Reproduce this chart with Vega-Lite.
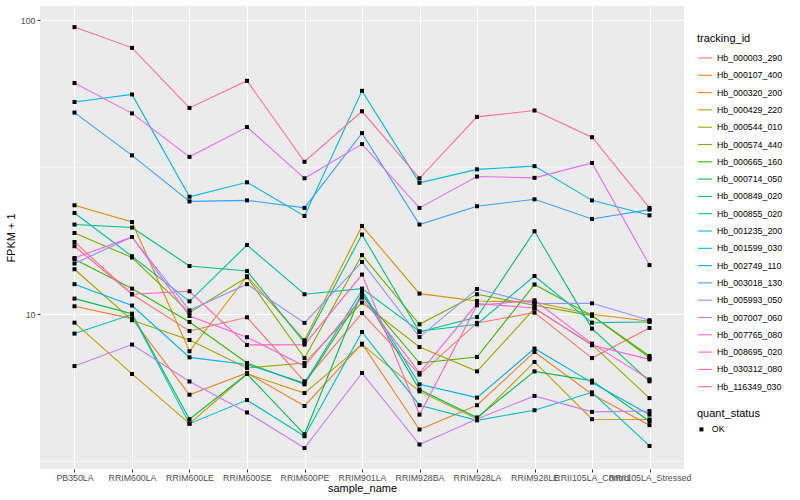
{
  "$schema": "https://vega.github.io/schema/vega-lite/v6.json",
  "width": 644,
  "height": 463,
  "autosize": {"type": "none"},
  "padding": {"left": 40, "top": 6, "right": 116, "bottom": 31},
  "background": "white",
  "config": {
    "font": "Liberation Sans",
    "view": {"fill": "#EBEBEB", "stroke": null}
  },
  "data": {
    "values": [
      {"tracking_id":"Hb_000003_290","sample_name":"PB350LA","fpkm":17.62,"quant_status":"OK"},
      {"tracking_id":"Hb_000003_290","sample_name":"RRIM600LA","fpkm":11.70,"quant_status":"OK"},
      {"tracking_id":"Hb_000003_290","sample_name":"RRIM600LE","fpkm":8.78,"quant_status":"OK"},
      {"tracking_id":"Hb_000003_290","sample_name":"RRIM600SE","fpkm":9.77,"quant_status":"OK"},
      {"tracking_id":"Hb_000003_290","sample_name":"RRIM600PE","fpkm":5.92,"quant_status":"OK"},
      {"tracking_id":"Hb_000003_290","sample_name":"RRIM901LA","fpkm":10.10,"quant_status":"OK"},
      {"tracking_id":"Hb_000003_290","sample_name":"RRIM928BA","fpkm":6.24,"quant_status":"OK"},
      {"tracking_id":"Hb_000003_290","sample_name":"RRIM928LA","fpkm":9.35,"quant_status":"OK"},
      {"tracking_id":"Hb_000003_290","sample_name":"RRIM928LE","fpkm":10.13,"quant_status":"OK"},
      {"tracking_id":"Hb_000003_290","sample_name":"RRII105LA_Control","fpkm":7.10,"quant_status":"OK"},
      {"tracking_id":"Hb_000003_290","sample_name":"RRII105LA_Stressed","fpkm":8.99,"quant_status":"OK"},

      {"tracking_id":"Hb_000107_400","sample_name":"PB350LA","fpkm":10.65,"quant_status":"OK"},
      {"tracking_id":"Hb_000107_400","sample_name":"RRIM600LA","fpkm":9.67,"quant_status":"OK"},
      {"tracking_id":"Hb_000107_400","sample_name":"RRIM600LE","fpkm":5.33,"quant_status":"OK"},
      {"tracking_id":"Hb_000107_400","sample_name":"RRIM600SE","fpkm":6.32,"quant_status":"OK"},
      {"tracking_id":"Hb_000107_400","sample_name":"RRIM600PE","fpkm":4.88,"quant_status":"OK"},
      {"tracking_id":"Hb_000107_400","sample_name":"RRIM901LA","fpkm":7.95,"quant_status":"OK"},
      {"tracking_id":"Hb_000107_400","sample_name":"RRIM928BA","fpkm":4.06,"quant_status":"OK"},
      {"tracking_id":"Hb_000107_400","sample_name":"RRIM928LA","fpkm":4.91,"quant_status":"OK"},
      {"tracking_id":"Hb_000107_400","sample_name":"RRIM928LE","fpkm":7.45,"quant_status":"OK"},
      {"tracking_id":"Hb_000107_400","sample_name":"RRII105LA_Control","fpkm":5.35,"quant_status":"OK"},
      {"tracking_id":"Hb_000107_400","sample_name":"RRII105LA_Stressed","fpkm":4.20,"quant_status":"OK"},

      {"tracking_id":"Hb_000320_200","sample_name":"PB350LA","fpkm":23.48,"quant_status":"OK"},
      {"tracking_id":"Hb_000320_200","sample_name":"RRIM600LA","fpkm":20.6,"quant_status":"OK"},
      {"tracking_id":"Hb_000320_200","sample_name":"RRIM600LE","fpkm":7.49,"quant_status":"OK"},
      {"tracking_id":"Hb_000320_200","sample_name":"RRIM600SE","fpkm":13.47,"quant_status":"OK"},
      {"tracking_id":"Hb_000320_200","sample_name":"RRIM600PE","fpkm":8.16,"quant_status":"OK"},
      {"tracking_id":"Hb_000320_200","sample_name":"RRIM901LA","fpkm":19.97,"quant_status":"OK"},
      {"tracking_id":"Hb_000320_200","sample_name":"RRIM928BA","fpkm":11.76,"quant_status":"OK"},
      {"tracking_id":"Hb_000320_200","sample_name":"RRIM928LA","fpkm":11.10,"quant_status":"OK"},
      {"tracking_id":"Hb_000320_200","sample_name":"RRIM928LE","fpkm":11.01,"quant_status":"OK"},
      {"tracking_id":"Hb_000320_200","sample_name":"RRII105LA_Control","fpkm":10.0,"quant_status":"OK"},
      {"tracking_id":"Hb_000320_200","sample_name":"RRII105LA_Stressed","fpkm":9.47,"quant_status":"OK"},

      {"tracking_id":"Hb_000429_220","sample_name":"PB350LA","fpkm":9.37,"quant_status":"OK"},
      {"tracking_id":"Hb_000429_220","sample_name":"RRIM600LA","fpkm":6.27,"quant_status":"OK"},
      {"tracking_id":"Hb_000429_220","sample_name":"RRIM600LE","fpkm":4.25,"quant_status":"OK"},
      {"tracking_id":"Hb_000429_220","sample_name":"RRIM600SE","fpkm":6.27,"quant_status":"OK"},
      {"tracking_id":"Hb_000429_220","sample_name":"RRIM600PE","fpkm":5.40,"quant_status":"OK"},
      {"tracking_id":"Hb_000429_220","sample_name":"RRIM901LA","fpkm":7.89,"quant_status":"OK"},
      {"tracking_id":"Hb_000429_220","sample_name":"RRIM928BA","fpkm":5.47,"quant_status":"OK"},
      {"tracking_id":"Hb_000429_220","sample_name":"RRIM928LA","fpkm":4.41,"quant_status":"OK"},
      {"tracking_id":"Hb_000429_220","sample_name":"RRIM928LE","fpkm":6.89,"quant_status":"OK"},
      {"tracking_id":"Hb_000429_220","sample_name":"RRII105LA_Control","fpkm":4.40,"quant_status":"OK"},
      {"tracking_id":"Hb_000429_220","sample_name":"RRII105LA_Stressed","fpkm":4.39,"quant_status":"OK"},

      {"tracking_id":"Hb_000544_010","sample_name":"PB350LA","fpkm":14.23,"quant_status":"OK"},
      {"tracking_id":"Hb_000544_010","sample_name":"RRIM600LA","fpkm":9.55,"quant_status":"OK"},
      {"tracking_id":"Hb_000544_010","sample_name":"RRIM600LE","fpkm":8.18,"quant_status":"OK"},
      {"tracking_id":"Hb_000544_010","sample_name":"RRIM600SE","fpkm":6.57,"quant_status":"OK"},
      {"tracking_id":"Hb_000544_010","sample_name":"RRIM600PE","fpkm":6.83,"quant_status":"OK"},
      {"tracking_id":"Hb_000544_010","sample_name":"RRIM901LA","fpkm":10.96,"quant_status":"OK"},
      {"tracking_id":"Hb_000544_010","sample_name":"RRIM928BA","fpkm":7.74,"quant_status":"OK"},
      {"tracking_id":"Hb_000544_010","sample_name":"RRIM928LA","fpkm":6.40,"quant_status":"OK"},
      {"tracking_id":"Hb_000544_010","sample_name":"RRIM928LE","fpkm":10.46,"quant_status":"OK"},
      {"tracking_id":"Hb_000544_010","sample_name":"RRII105LA_Control","fpkm":7.89,"quant_status":"OK"},
      {"tracking_id":"Hb_000544_010","sample_name":"RRII105LA_Stressed","fpkm":5.19,"quant_status":"OK"},

      {"tracking_id":"Hb_000574_440","sample_name":"PB350LA","fpkm":18.9,"quant_status":"OK"},
      {"tracking_id":"Hb_000574_440","sample_name":"RRIM600LA","fpkm":15.6,"quant_status":"OK"},
      {"tracking_id":"Hb_000574_440","sample_name":"RRIM600LE","fpkm":10.13,"quant_status":"OK"},
      {"tracking_id":"Hb_000574_440","sample_name":"RRIM600SE","fpkm":13.37,"quant_status":"OK"},
      {"tracking_id":"Hb_000574_440","sample_name":"RRIM600PE","fpkm":7.10,"quant_status":"OK"},
      {"tracking_id":"Hb_000574_440","sample_name":"RRIM901LA","fpkm":15.9,"quant_status":"OK"},
      {"tracking_id":"Hb_000574_440","sample_name":"RRIM928BA","fpkm":9.25,"quant_status":"OK"},
      {"tracking_id":"Hb_000574_440","sample_name":"RRIM928LA","fpkm":11.70,"quant_status":"OK"},
      {"tracking_id":"Hb_000574_440","sample_name":"RRIM928LE","fpkm":10.73,"quant_status":"OK"},
      {"tracking_id":"Hb_000574_440","sample_name":"RRII105LA_Control","fpkm":9.90,"quant_status":"OK"},
      {"tracking_id":"Hb_000574_440","sample_name":"RRII105LA_Stressed","fpkm":7.12,"quant_status":"OK"},

      {"tracking_id":"Hb_000665_160","sample_name":"PB350LA","fpkm":15.39,"quant_status":"OK"},
      {"tracking_id":"Hb_000665_160","sample_name":"RRIM600LA","fpkm":12.23,"quant_status":"OK"},
      {"tracking_id":"Hb_000665_160","sample_name":"RRIM600LE","fpkm":9.42,"quant_status":"OK"},
      {"tracking_id":"Hb_000665_160","sample_name":"RRIM600SE","fpkm":6.83,"quant_status":"OK"},
      {"tracking_id":"Hb_000665_160","sample_name":"RRIM600PE","fpkm":5.78,"quant_status":"OK"},
      {"tracking_id":"Hb_000665_160","sample_name":"RRIM901LA","fpkm":11.61,"quant_status":"OK"},
      {"tracking_id":"Hb_000665_160","sample_name":"RRIM928BA","fpkm":6.83,"quant_status":"OK"},
      {"tracking_id":"Hb_000665_160","sample_name":"RRIM928LA","fpkm":7.16,"quant_status":"OK"},
      {"tracking_id":"Hb_000665_160","sample_name":"RRIM928LE","fpkm":12.63,"quant_status":"OK"},
      {"tracking_id":"Hb_000665_160","sample_name":"RRII105LA_Control","fpkm":9.90,"quant_status":"OK"},
      {"tracking_id":"Hb_000665_160","sample_name":"RRII105LA_Stressed","fpkm":7.22,"quant_status":"OK"},

      {"tracking_id":"Hb_000714_050","sample_name":"PB350LA","fpkm":11.31,"quant_status":"OK"},
      {"tracking_id":"Hb_000714_050","sample_name":"RRIM600LA","fpkm":10.05,"quant_status":"OK"},
      {"tracking_id":"Hb_000714_050","sample_name":"RRIM600LE","fpkm":4.40,"quant_status":"OK"},
      {"tracking_id":"Hb_000714_050","sample_name":"RRIM600SE","fpkm":6.27,"quant_status":"OK"},
      {"tracking_id":"Hb_000714_050","sample_name":"RRIM600PE","fpkm":3.91,"quant_status":"OK"},
      {"tracking_id":"Hb_000714_050","sample_name":"RRIM901LA","fpkm":11.91,"quant_status":"OK"},
      {"tracking_id":"Hb_000714_050","sample_name":"RRIM928BA","fpkm":5.55,"quant_status":"OK"},
      {"tracking_id":"Hb_000714_050","sample_name":"RRIM928LA","fpkm":4.46,"quant_status":"OK"},
      {"tracking_id":"Hb_000714_050","sample_name":"RRIM928LE","fpkm":6.40,"quant_status":"OK"},
      {"tracking_id":"Hb_000714_050","sample_name":"RRII105LA_Control","fpkm":5.95,"quant_status":"OK"},
      {"tracking_id":"Hb_000714_050","sample_name":"RRII105LA_Stressed","fpkm":4.33,"quant_status":"OK"},

      {"tracking_id":"Hb_000849_020","sample_name":"PB350LA","fpkm":20.19,"quant_status":"OK"},
      {"tracking_id":"Hb_000849_020","sample_name":"RRIM600LA","fpkm":19.72,"quant_status":"OK"},
      {"tracking_id":"Hb_000849_020","sample_name":"RRIM600LE","fpkm":14.6,"quant_status":"OK"},
      {"tracking_id":"Hb_000849_020","sample_name":"RRIM600SE","fpkm":14.04,"quant_status":"OK"},
      {"tracking_id":"Hb_000849_020","sample_name":"RRIM600PE","fpkm":8.01,"quant_status":"OK"},
      {"tracking_id":"Hb_000849_020","sample_name":"RRIM901LA","fpkm":18.67,"quant_status":"OK"},
      {"tracking_id":"Hb_000849_020","sample_name":"RRIM928BA","fpkm":8.71,"quant_status":"OK"},
      {"tracking_id":"Hb_000849_020","sample_name":"RRIM928LA","fpkm":9.79,"quant_status":"OK"},
      {"tracking_id":"Hb_000849_020","sample_name":"RRIM928LE","fpkm":19.16,"quant_status":"OK"},
      {"tracking_id":"Hb_000849_020","sample_name":"RRII105LA_Control","fpkm":8.94,"quant_status":"OK"},
      {"tracking_id":"Hb_000849_020","sample_name":"RRII105LA_Stressed","fpkm":5.92,"quant_status":"OK"},

      {"tracking_id":"Hb_000855_020","sample_name":"PB350LA","fpkm":22.1,"quant_status":"OK"},
      {"tracking_id":"Hb_000855_020","sample_name":"RRIM600LA","fpkm":15.75,"quant_status":"OK"},
      {"tracking_id":"Hb_000855_020","sample_name":"RRIM600LE","fpkm":11.07,"quant_status":"OK"},
      {"tracking_id":"Hb_000855_020","sample_name":"RRIM600SE","fpkm":17.2,"quant_status":"OK"},
      {"tracking_id":"Hb_000855_020","sample_name":"RRIM600PE","fpkm":11.70,"quant_status":"OK"},
      {"tracking_id":"Hb_000855_020","sample_name":"RRIM901LA","fpkm":12.23,"quant_status":"OK"},
      {"tracking_id":"Hb_000855_020","sample_name":"RRIM928BA","fpkm":8.76,"quant_status":"OK"},
      {"tracking_id":"Hb_000855_020","sample_name":"RRIM928LA","fpkm":9.25,"quant_status":"OK"},
      {"tracking_id":"Hb_000855_020","sample_name":"RRIM928LE","fpkm":13.5,"quant_status":"OK"},
      {"tracking_id":"Hb_000855_020","sample_name":"RRII105LA_Control","fpkm":9.37,"quant_status":"OK"},
      {"tracking_id":"Hb_000855_020","sample_name":"RRII105LA_Stressed","fpkm":9.42,"quant_status":"OK"},

      {"tracking_id":"Hb_001235_200","sample_name":"PB350LA","fpkm":8.60,"quant_status":"OK"},
      {"tracking_id":"Hb_001235_200","sample_name":"RRIM600LA","fpkm":9.98,"quant_status":"OK"},
      {"tracking_id":"Hb_001235_200","sample_name":"RRIM600LE","fpkm":4.25,"quant_status":"OK"},
      {"tracking_id":"Hb_001235_200","sample_name":"RRIM600SE","fpkm":5.11,"quant_status":"OK"},
      {"tracking_id":"Hb_001235_200","sample_name":"RRIM600PE","fpkm":3.85,"quant_status":"OK"},
      {"tracking_id":"Hb_001235_200","sample_name":"RRIM901LA","fpkm":8.71,"quant_status":"OK"},
      {"tracking_id":"Hb_001235_200","sample_name":"RRIM928BA","fpkm":4.91,"quant_status":"OK"},
      {"tracking_id":"Hb_001235_200","sample_name":"RRIM928LA","fpkm":4.36,"quant_status":"OK"},
      {"tracking_id":"Hb_001235_200","sample_name":"RRIM928LE","fpkm":4.72,"quant_status":"OK"},
      {"tracking_id":"Hb_001235_200","sample_name":"RRII105LA_Control","fpkm":5.43,"quant_status":"OK"},
      {"tracking_id":"Hb_001235_200","sample_name":"RRII105LA_Stressed","fpkm":3.57,"quant_status":"OK"},

      {"tracking_id":"Hb_001599_030","sample_name":"PB350LA","fpkm":52.7,"quant_status":"OK"},
      {"tracking_id":"Hb_001599_030","sample_name":"RRIM600LA","fpkm":55.9,"quant_status":"OK"},
      {"tracking_id":"Hb_001599_030","sample_name":"RRIM600LE","fpkm":25.1,"quant_status":"OK"},
      {"tracking_id":"Hb_001599_030","sample_name":"RRIM600SE","fpkm":28.1,"quant_status":"OK"},
      {"tracking_id":"Hb_001599_030","sample_name":"RRIM600PE","fpkm":21.6,"quant_status":"OK"},
      {"tracking_id":"Hb_001599_030","sample_name":"RRIM901LA","fpkm":57.5,"quant_status":"OK"},
      {"tracking_id":"Hb_001599_030","sample_name":"RRIM928BA","fpkm":28.0,"quant_status":"OK"},
      {"tracking_id":"Hb_001599_030","sample_name":"RRIM928LA","fpkm":31.1,"quant_status":"OK"},
      {"tracking_id":"Hb_001599_030","sample_name":"RRIM928LE","fpkm":31.9,"quant_status":"OK"},
      {"tracking_id":"Hb_001599_030","sample_name":"RRII105LA_Control","fpkm":24.4,"quant_status":"OK"},
      {"tracking_id":"Hb_001599_030","sample_name":"RRII105LA_Stressed","fpkm":21.7,"quant_status":"OK"},

      {"tracking_id":"Hb_002749_110","sample_name":"PB350LA","fpkm":12.66,"quant_status":"OK"},
      {"tracking_id":"Hb_002749_110","sample_name":"RRIM600LA","fpkm":10.71,"quant_status":"OK"},
      {"tracking_id":"Hb_002749_110","sample_name":"RRIM600LE","fpkm":7.14,"quant_status":"OK"},
      {"tracking_id":"Hb_002749_110","sample_name":"RRIM600SE","fpkm":6.75,"quant_status":"OK"},
      {"tracking_id":"Hb_002749_110","sample_name":"RRIM600PE","fpkm":5.84,"quant_status":"OK"},
      {"tracking_id":"Hb_002749_110","sample_name":"RRIM901LA","fpkm":12.07,"quant_status":"OK"},
      {"tracking_id":"Hb_002749_110","sample_name":"RRIM928BA","fpkm":5.78,"quant_status":"OK"},
      {"tracking_id":"Hb_002749_110","sample_name":"RRIM928LA","fpkm":5.21,"quant_status":"OK"},
      {"tracking_id":"Hb_002749_110","sample_name":"RRIM928LE","fpkm":7.65,"quant_status":"OK"},
      {"tracking_id":"Hb_002749_110","sample_name":"RRII105LA_Control","fpkm":5.86,"quant_status":"OK"},
      {"tracking_id":"Hb_002749_110","sample_name":"RRII105LA_Stressed","fpkm":4.56,"quant_status":"OK"},

      {"tracking_id":"Hb_003018_130","sample_name":"PB350LA","fpkm":48.5,"quant_status":"OK"},
      {"tracking_id":"Hb_003018_130","sample_name":"RRIM600LA","fpkm":34.7,"quant_status":"OK"},
      {"tracking_id":"Hb_003018_130","sample_name":"RRIM600LE","fpkm":24.2,"quant_status":"OK"},
      {"tracking_id":"Hb_003018_130","sample_name":"RRIM600SE","fpkm":24.4,"quant_status":"OK"},
      {"tracking_id":"Hb_003018_130","sample_name":"RRIM600PE","fpkm":23.0,"quant_status":"OK"},
      {"tracking_id":"Hb_003018_130","sample_name":"RRIM901LA","fpkm":41.3,"quant_status":"OK"},
      {"tracking_id":"Hb_003018_130","sample_name":"RRIM928BA","fpkm":20.2,"quant_status":"OK"},
      {"tracking_id":"Hb_003018_130","sample_name":"RRIM928LA","fpkm":23.3,"quant_status":"OK"},
      {"tracking_id":"Hb_003018_130","sample_name":"RRIM928LE","fpkm":24.6,"quant_status":"OK"},
      {"tracking_id":"Hb_003018_130","sample_name":"RRII105LA_Control","fpkm":21.1,"quant_status":"OK"},
      {"tracking_id":"Hb_003018_130","sample_name":"RRII105LA_Stressed","fpkm":22.7,"quant_status":"OK"},

      {"tracking_id":"Hb_005993_050","sample_name":"PB350LA","fpkm":14.88,"quant_status":"OK"},
      {"tracking_id":"Hb_005993_050","sample_name":"RRIM600LA","fpkm":18.32,"quant_status":"OK"},
      {"tracking_id":"Hb_005993_050","sample_name":"RRIM600LE","fpkm":10.32,"quant_status":"OK"},
      {"tracking_id":"Hb_005993_050","sample_name":"RRIM600SE","fpkm":12.66,"quant_status":"OK"},
      {"tracking_id":"Hb_005993_050","sample_name":"RRIM600PE","fpkm":9.35,"quant_status":"OK"},
      {"tracking_id":"Hb_005993_050","sample_name":"RRIM901LA","fpkm":15.07,"quant_status":"OK"},
      {"tracking_id":"Hb_005993_050","sample_name":"RRIM928BA","fpkm":8.37,"quant_status":"OK"},
      {"tracking_id":"Hb_005993_050","sample_name":"RRIM928LA","fpkm":12.19,"quant_status":"OK"},
      {"tracking_id":"Hb_005993_050","sample_name":"RRIM928LE","fpkm":10.88,"quant_status":"OK"},
      {"tracking_id":"Hb_005993_050","sample_name":"RRII105LA_Control","fpkm":10.90,"quant_status":"OK"},
      {"tracking_id":"Hb_005993_050","sample_name":"RRII105LA_Stressed","fpkm":9.55,"quant_status":"OK"},

      {"tracking_id":"Hb_007007_060","sample_name":"PB350LA","fpkm":6.67,"quant_status":"OK"},
      {"tracking_id":"Hb_007007_060","sample_name":"RRIM600LA","fpkm":7.89,"quant_status":"OK"},
      {"tracking_id":"Hb_007007_060","sample_name":"RRIM600LE","fpkm":5.91,"quant_status":"OK"},
      {"tracking_id":"Hb_007007_060","sample_name":"RRIM600SE","fpkm":4.64,"quant_status":"OK"},
      {"tracking_id":"Hb_007007_060","sample_name":"RRIM600PE","fpkm":3.51,"quant_status":"OK"},
      {"tracking_id":"Hb_007007_060","sample_name":"RRIM901LA","fpkm":6.32,"quant_status":"OK"},
      {"tracking_id":"Hb_007007_060","sample_name":"RRIM928BA","fpkm":3.61,"quant_status":"OK"},
      {"tracking_id":"Hb_007007_060","sample_name":"RRIM928LA","fpkm":4.41,"quant_status":"OK"},
      {"tracking_id":"Hb_007007_060","sample_name":"RRIM928LE","fpkm":5.28,"quant_status":"OK"},
      {"tracking_id":"Hb_007007_060","sample_name":"RRII105LA_Control","fpkm":4.66,"quant_status":"OK"},
      {"tracking_id":"Hb_007007_060","sample_name":"RRII105LA_Stressed","fpkm":4.69,"quant_status":"OK"},

      {"tracking_id":"Hb_007765_080","sample_name":"PB350LA","fpkm":61.1,"quant_status":"OK"},
      {"tracking_id":"Hb_007765_080","sample_name":"RRIM600LA","fpkm":48.2,"quant_status":"OK"},
      {"tracking_id":"Hb_007765_080","sample_name":"RRIM600LE","fpkm":34.3,"quant_status":"OK"},
      {"tracking_id":"Hb_007765_080","sample_name":"RRIM600SE","fpkm":43.3,"quant_status":"OK"},
      {"tracking_id":"Hb_007765_080","sample_name":"RRIM600PE","fpkm":29.0,"quant_status":"OK"},
      {"tracking_id":"Hb_007765_080","sample_name":"RRIM901LA","fpkm":37.9,"quant_status":"OK"},
      {"tracking_id":"Hb_007765_080","sample_name":"RRIM928BA","fpkm":23.0,"quant_status":"OK"},
      {"tracking_id":"Hb_007765_080","sample_name":"RRIM928LA","fpkm":29.4,"quant_status":"OK"},
      {"tracking_id":"Hb_007765_080","sample_name":"RRIM928LE","fpkm":29.1,"quant_status":"OK"},
      {"tracking_id":"Hb_007765_080","sample_name":"RRII105LA_Control","fpkm":32.7,"quant_status":"OK"},
      {"tracking_id":"Hb_007765_080","sample_name":"RRII105LA_Stressed","fpkm":14.7,"quant_status":"OK"},

      {"tracking_id":"Hb_008695_020","sample_name":"PB350LA","fpkm":15.54,"quant_status":"OK"},
      {"tracking_id":"Hb_008695_020","sample_name":"RRIM600LA","fpkm":18.32,"quant_status":"OK"},
      {"tracking_id":"Hb_008695_020","sample_name":"RRIM600LE","fpkm":9.87,"quant_status":"OK"},
      {"tracking_id":"Hb_008695_020","sample_name":"RRIM600SE","fpkm":8.36,"quant_status":"OK"},
      {"tracking_id":"Hb_008695_020","sample_name":"RRIM600PE","fpkm":6.67,"quant_status":"OK"},
      {"tracking_id":"Hb_008695_020","sample_name":"RRIM901LA","fpkm":11.40,"quant_status":"OK"},
      {"tracking_id":"Hb_008695_020","sample_name":"RRIM928BA","fpkm":6.32,"quant_status":"OK"},
      {"tracking_id":"Hb_008695_020","sample_name":"RRIM928LA","fpkm":10.88,"quant_status":"OK"},
      {"tracking_id":"Hb_008695_020","sample_name":"RRIM928LE","fpkm":10.51,"quant_status":"OK"},
      {"tracking_id":"Hb_008695_020","sample_name":"RRII105LA_Control","fpkm":7.85,"quant_status":"OK"},
      {"tracking_id":"Hb_008695_020","sample_name":"RRII105LA_Stressed","fpkm":7.03,"quant_status":"OK"},

      {"tracking_id":"Hb_030312_080","sample_name":"PB350LA","fpkm":17.04,"quant_status":"OK"},
      {"tracking_id":"Hb_030312_080","sample_name":"RRIM600LA","fpkm":11.70,"quant_status":"OK"},
      {"tracking_id":"Hb_030312_080","sample_name":"RRIM600LE","fpkm":11.98,"quant_status":"OK"},
      {"tracking_id":"Hb_030312_080","sample_name":"RRIM600SE","fpkm":7.87,"quant_status":"OK"},
      {"tracking_id":"Hb_030312_080","sample_name":"RRIM600PE","fpkm":7.89,"quant_status":"OK"},
      {"tracking_id":"Hb_030312_080","sample_name":"RRIM901LA","fpkm":13.65,"quant_status":"OK"},
      {"tracking_id":"Hb_030312_080","sample_name":"RRIM928BA","fpkm":4.56,"quant_status":"OK"},
      {"tracking_id":"Hb_030312_080","sample_name":"RRIM928LA","fpkm":10.73,"quant_status":"OK"},
      {"tracking_id":"Hb_030312_080","sample_name":"RRIM928LE","fpkm":11.16,"quant_status":"OK"},
      {"tracking_id":"Hb_030312_080","sample_name":"RRII105LA_Control","fpkm":7.95,"quant_status":"OK"},
      {"tracking_id":"Hb_030312_080","sample_name":"RRII105LA_Stressed","fpkm":6.01,"quant_status":"OK"},

      {"tracking_id":"Hb_116349_030","sample_name":"PB350LA","fpkm":94.7,"quant_status":"OK"},
      {"tracking_id":"Hb_116349_030","sample_name":"RRIM600LA","fpkm":80.5,"quant_status":"OK"},
      {"tracking_id":"Hb_116349_030","sample_name":"RRIM600LE","fpkm":50.3,"quant_status":"OK"},
      {"tracking_id":"Hb_116349_030","sample_name":"RRIM600SE","fpkm":62.2,"quant_status":"OK"},
      {"tracking_id":"Hb_116349_030","sample_name":"RRIM600PE","fpkm":33.0,"quant_status":"OK"},
      {"tracking_id":"Hb_116349_030","sample_name":"RRIM901LA","fpkm":49.0,"quant_status":"OK"},
      {"tracking_id":"Hb_116349_030","sample_name":"RRIM928BA","fpkm":29.0,"quant_status":"OK"},
      {"tracking_id":"Hb_116349_030","sample_name":"RRIM928LA","fpkm":46.9,"quant_status":"OK"},
      {"tracking_id":"Hb_116349_030","sample_name":"RRIM928LE","fpkm":49.3,"quant_status":"OK"},
      {"tracking_id":"Hb_116349_030","sample_name":"RRII105LA_Control","fpkm":40.0,"quant_status":"OK"},
      {"tracking_id":"Hb_116349_030","sample_name":"RRII105LA_Stressed","fpkm":23.0,"quant_status":"OK"}
    ]
  },
  "encoding": {
    "x": {
      "field": "sample_name",
      "type": "nominal",
      "sort": ["PB350LA","RRIM600LA","RRIM600LE","RRIM600SE","RRIM600PE","RRIM901LA","RRIM928BA","RRIM928LA","RRIM928LE","RRII105LA_Control","RRII105LA_Stressed"],
      "scale": {"type": "point", "padding": 0.6},
      "axis": {
        "title": "sample_name",
        "titleFontSize": 11,
        "titleFontWeight": "normal",
        "titleColor": "#000000",
        "titlePadding": 1,
        "labelAngle": 0,
        "labelFontSize": 8.8,
        "labelColor": "#4D4D4D",
        "labelPadding": 1,
        "labelOverlap": false,
        "labelFlush": false,
        "labelBound": false,
        "tickColor": "#333333",
        "tickSize": 3,
        "tickWidth": 1,
        "domain": false,
        "grid": true,
        "gridColor": "#FFFFFF",
        "gridWidth": 1.1
      }
    },
    "y": {
      "field": "fpkm",
      "type": "quantitative",
      "scale": {"type": "log", "domain": [2.98, 111.7], "nice": false, "zero": false},
      "axis": {
        "title": "FPKM + 1",
        "titleFontSize": 11,
        "titleFontWeight": "normal",
        "titleColor": "#000000",
        "titlePadding": 4,
        "values": [3.16227766, 10, 31.6227766, 100],
        "labelExpr": "datum.value == 10 ? '10' : (datum.value == 100 ? '100' : '')",
        "labelFontSize": 8.8,
        "labelColor": "#4D4D4D",
        "labelPadding": 2,
        "tickColor": "#333333",
        "tickSize": 3,
        "tickWidth": 1,
        "tickOpacity": {"condition": {"test": "datum.value == 10 || datum.value == 100", "value": 1}, "value": 0},
        "domain": false,
        "grid": true,
        "gridColor": "#FFFFFF",
        "gridWidth": {"condition": {"test": "datum.value == 10 || datum.value == 100", "value": 1.1}, "value": 0.55}
      }
    }
  },
  "layer": [
    {
      "mark": {"type": "line", "strokeWidth": 1.1},
      "encoding": {
        "color": {
          "field": "tracking_id",
          "type": "nominal",
          "scale": {
            "domain": ["Hb_000003_290","Hb_000107_400","Hb_000320_200","Hb_000429_220","Hb_000544_010","Hb_000574_440","Hb_000665_160","Hb_000714_050","Hb_000849_020","Hb_000855_020","Hb_001235_200","Hb_001599_030","Hb_002749_110","Hb_003018_130","Hb_005993_050","Hb_007007_060","Hb_007765_080","Hb_008695_020","Hb_030312_080","Hb_116349_030"],
            "range": ["#F8766D","#EA8331","#D89000","#C09B00","#A3A500","#7CAE00","#39B600","#00BB4E","#00BF7D","#00C1A3","#00BFC4","#00BAE0","#00B0F6","#35A2FF","#9590FF","#C77CFF","#E76BF3","#FA62DB","#FF62BC","#FF6C91"]
          },
          "legend": {
            "title": "tracking_id",
            "orient": "none",
            "legendX": 657,
            "legendY": 27,
            "titleFontSize": 11,
            "titleFontWeight": "normal",
            "titleColor": "#000000",
            "titlePadding": 6,
            "labelFontSize": 8.8,
            "labelColor": "#000000",
            "labelOffset": 4,
            "symbolType": "stroke",
            "symbolSize": 200,
            "symbolStrokeWidth": 1.1,
            "rowPadding": 4.3
          }
        },
        "order": {"value": null}
      }
    },
    {
      "mark": {"type": "point", "filled": true, "color": "#000000", "size": 16, "opacity": 1},
      "encoding": {
        "shape": {
          "field": "quant_status",
          "type": "nominal",
          "scale": {"domain": ["OK"], "range": ["square"]},
          "legend": {
            "title": "quant_status",
            "orient": "none",
            "legendX": 657,
            "legendY": 402,
            "titleFontSize": 11,
            "titleFontWeight": "normal",
            "titleColor": "#000000",
            "titlePadding": 6,
            "labelFontSize": 8.8,
            "labelColor": "#000000",
            "labelOffset": 6,
            "symbolSize": 16,
            "symbolFillColor": "#000000"
          }
        }
      }
    }
  ]
}
